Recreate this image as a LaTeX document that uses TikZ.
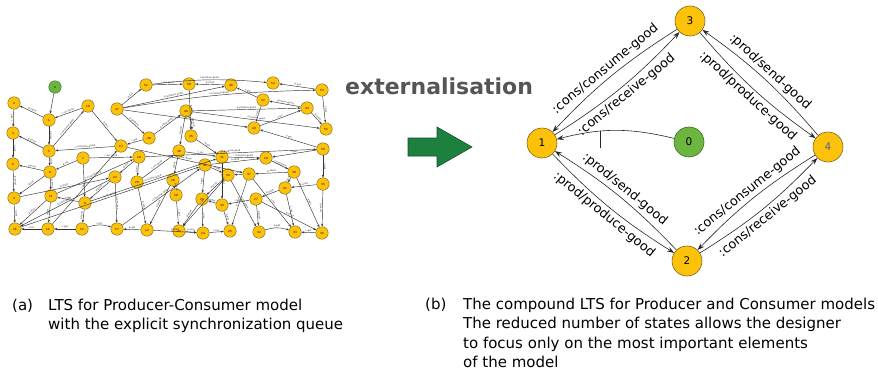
\documentclass[tikz,border=0pt]{standalone}
\usepackage{fontspec}
\setmainfont{DejaVu Sans}
\usetikzlibrary{arrows.meta}
\definecolor{ylw}{RGB}{252,194,10}
\definecolor{ylwd}{RGB}{125,100,30}
\definecolor{grn}{RGB}{108,182,64}
\definecolor{grnd}{RGB}{55,110,35}
\definecolor{arrg}{RGB}{30,128,62}
\definecolor{arrgd}{RGB}{20,80,40}
\definecolor{txtg}{RGB}{85,85,85}
\definecolor{four}{RGB}{85,95,160}
\begin{document}
\begin{tikzpicture}[x=1pt,y=1pt,
  sst/.style={circle,draw=ylwd,fill=ylw,line width=0.4pt,minimum size=12.5pt,inner sep=0pt,font=\fontsize{2.8}{3}\selectfont},
  sstg/.style={sst,fill=grn,draw=grnd},
  sedge/.style={draw=black!80,line width=0.45pt,-{Stealth[length=2.8pt,width=2.2pt]}},
  elab/.style={font=\fontsize{2.4}{2.6}\selectfont,sloped,above,inner sep=0.4pt,text=black!85},
  bst/.style={circle,draw=ylwd,fill=ylw,line width=0.6pt,minimum size=30pt,inner sep=0pt,font=\fontsize{10.5}{12}\selectfont},
  bstg/.style={bst,fill=grn,draw=grnd},
  bedge/.style={draw=black!85,line width=0.6pt,-{Stealth[length=7pt,width=5pt,inset=2.5pt]},bend right=7},
  blab/.style={font=\fontsize{12.8}{14}\selectfont,sloped,midway,inner sep=2.5pt},
  captxt/.style={anchor=base west,inner sep=0pt,font=\fontsize{15}{18}\selectfont}
]
\useasboundingbox (0,0) rectangle (878,-369);

% ---------- left LTS ----------
\node[sstg] (a0) at (55,-87) {0};
\foreach \n/\x/\y/\l in {
 a1/49/120/1, a2/14/103/2, a10/88/106/10, a47/117/109/47, a51/146/85/51,
 a48/149/138/48, a4/13/133/4, a5/49/151/5, a13/121/146/13, a6/13/164/6,
 a7/83/158/7, a18/139/157/18, a8/50/172/8, a22/115/177/22, a20/137/182/20,
 a3/14/198/3, a11/51/196/11, a9/85/203/9, a16/15/229/16, a14/48/229/14,
 a15/82/229/15, a17/117/229/17, a12/147/230/12, a58/189/84/58, a46/231/85/46,
 a54/273/83/54, a53/322/90/53, a52/263/100/52, a44/186/111/44, a43/307/108/43,
 a55/326/129/55, a40/254/128/40, a45/191/136/45, a38/179/151/38, a50/323/149/50,
 a31/222/157/31, a29/266/158/29, a41/205/165/41, a26/173/180/26, a28/176/195/28,
 a21/202/199/21, a34/228/175/34, a37/249/174/37, a39/294/172/39, a35/323/184/35,
 a42/285/188/42, a30/222/205/30, a27/256/199/27, a23/179/231/23, a24/203/233/24,
 a25/230/231/25, a32/259/232/32, a33/295/232/33, a36/322/233/36}
 \node[sst] (\n) at (\x,-\y) {\l};

\foreach \s/\t/\l in {
 a0/a1/{}, a1/a2/p-send, a2/a4/c-get, a10/a1/c-rec-good, a1/a5/p-prod, a5/a4/p-send,
 a5/a10/c-consume-good, a10/a13/q-put, a13/a5/c-consume-good, a4/a6/c-get, a6/a3/p-send,
 a8/a6/p-prod, a7/a8/p-rec, a5/a8/q-get, a7/a9/c-get, a8/a11/p-send, a9/a11/c-rec,
 a8/a3/q-put, a3/a16/c-get, a11/a16/p-prod, a14/a16/c-rec, a11/a14/q-get, a15/a14/c-get,
 a9/a15/p-send, a22/a17/c-consume, a22/a9/p-prod, a18/a22/q-put, a18/a20/c-rec,
 a20/a12/p-send, a12/a17/q-get, a7/a18/c-rec-good, a47/a48/p-produce, a47/a51/q-put,
 a51/a58/c-rec-good, a48/a44/p-send-good, a47/a46/p-produce-good, a47/a40/c-get,
 a46/a58/p-send, a52/a46/c-get, a53/a54/p-put, a53/a55/c-get, a43/a52/produce-good,
 a44/a55/consume-good, a40/a43/c-rec, a43/a55/p-send, a50/a40/c-get, a44/a38/p-prod,
 a38/a31/c-rec, a31/a29/consume-good, a50/a29/c-get, a38/a26/q-put, a26/a28/p-send,
 a41/a21/c-get, a34/a21/p-prod, a37/a34/c-rec, a41/a34/q-get, a39/a37/p-send,
 a29/a39/c-consume, a39/a42/q-put, a35/a42/p-prod, a50/a35/c-get, a42/a27/p-send,
 a27/a30/c-rec, a30/a21/q-get, a21/a23/p-prod, a28/a23/c-get, a23/a24/p-send,
 a24/a25/c-rec, a30/a25/q-put, a27/a32/p-prod, a36/a33/c-get, a35/a36/p-send,
 a42/a33/c-rec, a39/a36/q-get, a37/a25/p-send, a34/a32/c-consume, a26/a12/p-prod,
 a20/a38/c-rec-good, a22/a16/p-send-good, a17/a41/c-consume-good, a18/a50/p-produce-good,
 a13/a37/c-rec-good, a11/a18/p-send-good, a14/a13/c-get, a9/a31/consume-good,
 a3/a22/p-prod, a16/a41/c-rec-good, a45/a31/q-put, a58/a45/p-send, a48/a13/c-get,
 a12/a24/p-prod, a21/a24/c-rec, a41/a29/p-send, a31/a30/q-get, a37/a33/c-rec,
 a27/a36/p-send, a34/a23/c-get, a52/a40/c-rec, a44/a43/p-produce-good}
 \draw[sedge] (\s) -- node[elab]{\l} (\t);

\draw[sedge] (a44) to[bend left=18] node[elab]{p-send} (a45);
\draw[sedge] (a15) to[bend left=18] node[elab]{c-rec} (a17);
\draw[sedge] (a32) to[bend left=18] node[elab]{q-get} (a33);
\draw[sedge] (a51) to[bend left=6] node[elab]{c-produce-good} (a54);
\draw[sedge] (a47) to[bend left=4] node[elab]{c-consume-good} (a53);

% ---------- arrow and title ----------
\node[font=\fontsize{22}{25}\selectfont\bfseries,text=txtg,anchor=base west,inner sep=0pt] (ext) at (345,-94) {externalisation};
\draw[fill=arrg,draw=arrgd,line width=0.6pt] (408,-138) -- (437,-138) -- (437,-127) -- (472,-147) -- (437,-167) -- (437,-156) -- (408,-156) -- cycle;

% ---------- right LTS ----------
\node[bst] (r3) at (690,-21) {3};
\node[bst,text=four] (r4) at (828,-147) {4};
\node[bstg] (r0) at (689,-142) {0};
\node[bst] (r1) at (542,-143) {1};
\node[bst] (r2) at (687,-261) {2};

\draw[bedge] (r3) to node[blab,above]{:cons/consume-good} (r1);
\draw[bedge] (r1) to node[blab,below]{:cons/receive-good} (r3);
\draw[bedge] (r4) to node[blab,above]{:prod/send-good} (r3);
\draw[bedge] (r3) to node[blab,below]{:prod/produce-good} (r4);
\draw[bedge] (r2) to node[blab,above]{:prod/send-good} (r1);
\draw[bedge] (r1) to node[blab,below]{:prod/produce-good} (r2);
\draw[bedge] (r4) to node[blab,above]{:cons/consume-good} (r2);
\draw[bedge] (r2) to node[blab,below]{:cons/receive-good} (r4);
\draw[bedge,bend right=14] (r0) to coordinate[pos=0.64] (tk) (r1);
\path (tk) ++(0,-17) coordinate (tke);
\draw[black!85,line width=0.6pt] (tk) -- (tke);

% ---------- captions ----------
\node[captxt] (ca) at (12,-310) {(a)};
\node[captxt] (ca1) at (48,-310) {LTS for Producer-Consumer model};
\node[captxt] (ca2) at (48,-329) {with the explicit synchronization queue};
\node[captxt] (cb) at (425,-309) {(b)};
\node[captxt] (cb1) at (463,-309) {The compound LTS for Producer and Consumer models};
\node[captxt] (cb2) at (463,-328.5) {The reduced number of states allows the designer};
\node[captxt] (cb3) at (463,-348) {to focus only on the most important elements};
\node[captxt] (cb4) at (463,-367) {of the model};
\end{tikzpicture}
\end{document}
